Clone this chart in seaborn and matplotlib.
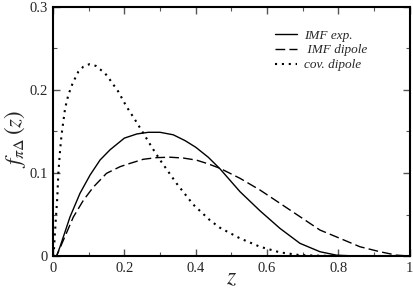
import numpy as np
import pandas as pd
import matplotlib
matplotlib.use("Agg")
import matplotlib.pyplot as plt
import seaborn as sns
from matplotlib.ticker import MultipleLocator, FuncFormatter

# dados
z_exp = [0, 0.01, 0.0196, 0.0476, 0.0756, 0.104, 0.132, 0.16, 0.2, 0.235, 0.267,
         0.30, 0.337, 0.37, 0.40, 0.435, 0.468, 0.524, 0.58, 0.636, 0.692, 0.748,
         0.795, 0.85, 1.0]
f_exp = [0, 0.0, 0.011, 0.047, 0.0755, 0.0976, 0.1157, 0.128, 0.142, 0.147, 0.149,
         0.149, 0.146, 0.139, 0.131, 0.119, 0.105, 0.0775, 0.0545, 0.0333, 0.0153, 0.0052,
         0.001, 0.0, 0.0]

z_dip = [0, 0.01, 0.029, 0.057, 0.085, 0.113, 0.15, 0.188, 0.216, 0.253, 0.29, 0.328,
         0.365, 0.402, 0.435, 0.468, 0.524, 0.58, 0.636, 0.692, 0.748, 0.804,
         0.86, 0.916, 0.963, 1.0]
f_dip = [0, 0.0, 0.019, 0.047, 0.067, 0.083, 0.0996, 0.1076, 0.1116, 0.1165, 0.1185, 0.119,
         0.118, 0.1155, 0.111, 0.1056, 0.0936, 0.0795, 0.0635, 0.0474, 0.0313, 0.0213,
         0.0112, 0.0052, 0.001, 0.0]

z_cov = [0, 0.003, 0.008, 0.012, 0.015, 0.02, 0.024, 0.034, 0.043, 0.055, 0.071,
         0.085, 0.102, 0.12, 0.146, 0.16, 0.183, 0.206, 0.23, 0.253, 0.277, 0.30,
         0.346, 0.393, 0.44, 0.468, 0.524, 0.58, 0.636, 0.69, 0.75, 0.8, 1.0]
f_cov = [0, 0.01, 0.045, 0.07, 0.1, 0.128, 0.146, 0.178, 0.194, 0.208, 0.222,
         0.228, 0.231, 0.229, 0.22, 0.212, 0.198, 0.18, 0.164, 0.148, 0.131, 0.1157,
         0.0876, 0.062, 0.043, 0.034, 0.0213, 0.0112, 0.0044, 0.0012, 0.0003, 0.0, 0.0]

legendas = ["IMF exp.", " IMF dipole", "cov. dipole"]

sns.set_style("ticks")
plt.rcParams['font.family'] = 'serif'
plt.rcParams['font.serif'] = ['Liberation Serif', 'DejaVu Serif']
plt.rcParams['mathtext.fontset'] = 'stix'

fig = plt.figure(figsize=(4.14, 2.88), dpi=100)
ax = fig.add_axes([0.128, 0.111, 0.862, 0.865])

sns.lineplot(x=z_exp, y=f_exp, ax=ax, color='black', lw=1.0, sort=False,
             estimator=None, label=legendas[0])
sns.lineplot(x=z_dip, y=f_dip, ax=ax, color='black', lw=1.0, sort=False,
             estimator=None, label=legendas[1])
ax.lines[-1].set_dashes((7, 3))
sns.lineplot(x=z_cov, y=f_cov, ax=ax, color='black', lw=1.5, sort=False,
             estimator=None, label=legendas[2])
ax.lines[-1].set_dashes((1, 2.3))

ax.set_xlim(0, 1)
ax.set_ylim(0, 0.3)
ax.xaxis.set_major_locator(MultipleLocator(0.2))
ax.xaxis.set_minor_locator(MultipleLocator(0.1))
ax.yaxis.set_major_locator(MultipleLocator(0.1))
ax.yaxis.set_minor_locator(MultipleLocator(0.05))
fmt = FuncFormatter(lambda v, p: "0" if abs(v) < 1e-9 else ("1" if abs(v - 1) < 1e-9 else f"{v:.1f}"))
ax.xaxis.set_major_formatter(fmt)
ax.yaxis.set_major_formatter(fmt)
ax.tick_params(which='both', direction='in', top=True, right=True, labelsize=10.5,
               color='#555555', pad=4)
ax.tick_params(which='major', length=5, width=1)
ax.tick_params(which='minor', length=3, width=0.8)
for s in ax.spines.values():
    s.set_linewidth(1.5)
    s.set_color('black')

ax.set_xlabel("$z$", fontsize=17)
ax.set_ylabel(r"$f_{\pi\Delta}\,(z)$", fontsize=16.5)
ax.xaxis.set_label_coords(0.5, -0.05)
ax.yaxis.set_label_coords(-0.07, 0.47)

leg = ax.legend(loc='upper left', bbox_to_anchor=(0.622, 0.91), frameon=False,
                fontsize=9.5, handlelength=1.67, handletextpad=0.55, labelspacing=0.2,
                borderpad=0, borderaxespad=0)
for t in leg.get_texts():
    t.set_fontstyle('italic')

plt.savefig('out.png', dpi=100)
